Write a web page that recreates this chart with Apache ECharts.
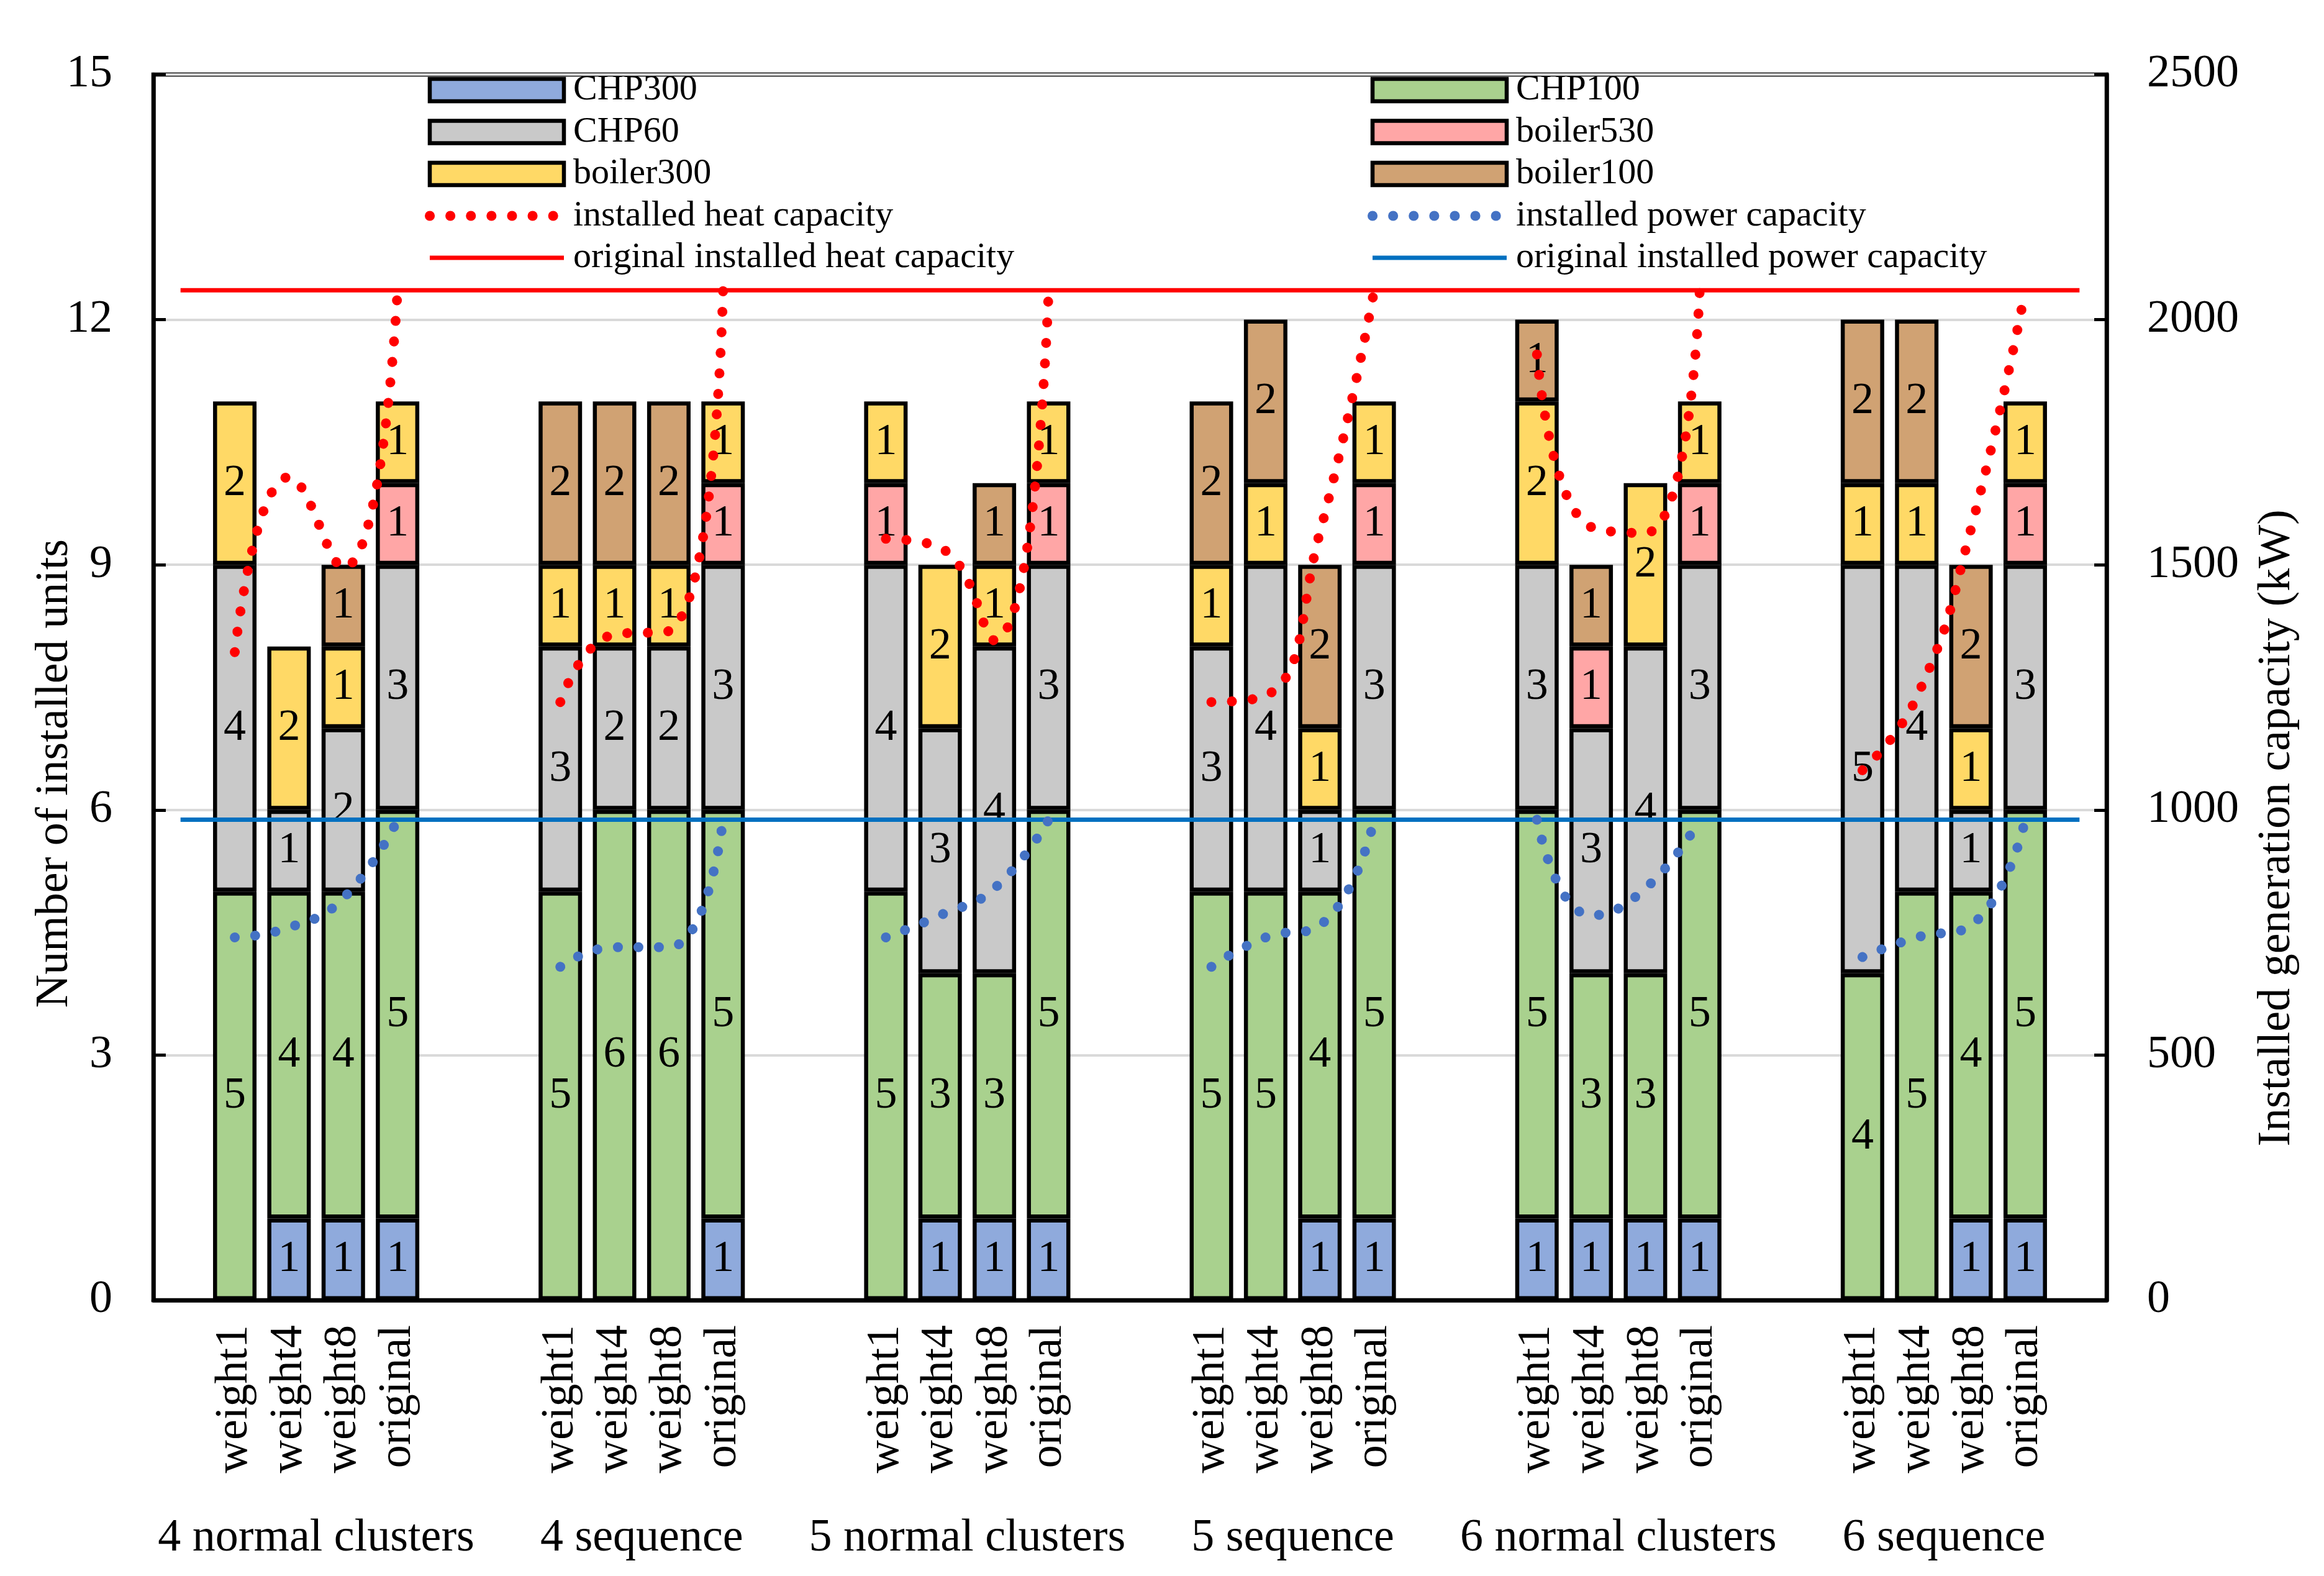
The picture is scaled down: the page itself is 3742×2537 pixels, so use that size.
<!DOCTYPE html>
<html><head><meta charset="utf-8">
<script src="https://cdn.jsdelivr.net/npm/echarts@6/dist/echarts.min.js"></script>
<style>html,body{margin:0;padding:0;background:#fff}#c{width:3742px;height:2537px}</style>
</head><body><div id="c"></div>
<script>
const groups = ['4 normal clusters', '4 sequence', '5 normal clusters', '5 sequence', '6 normal clusters', '6 sequence'];
const variants = ['weight1', 'weight4', 'weight8', 'original'];

// number of installed units per group: [weight1, weight4, weight8, original]
const CHP300    = [[0,1,1,1],[0,0,0,1],[0,1,1,1],[0,0,1,1],[1,1,1,1],[0,0,1,1]];
const CHP100    = [[5,4,4,5],[5,6,6,5],[5,3,3,5],[5,5,4,5],[5,3,3,5],[4,5,4,5]];
const CHP60     = [[4,1,2,3],[3,2,2,3],[4,3,4,3],[3,4,1,3],[3,3,4,3],[5,4,1,3]];
const boiler530 = [[0,0,0,1],[0,0,0,1],[1,0,0,1],[0,0,0,1],[0,1,0,1],[0,0,0,1]];
const boiler300 = [[2,2,1,1],[1,1,1,1],[1,2,1,1],[1,1,1,1],[2,0,2,1],[1,1,1,1]];
const boiler100 = [[0,0,1,0],[2,2,2,0],[0,0,1,0],[2,2,2,0],[1,1,0,0],[2,2,2,0]];

// installed capacity (kW)
const heatCapacity  = [[1322,1679,1494,2060],[1220,1358,1365,2060],[1553,1535,1346,2060],[1220,1233,1566,2060],[1929,1577,1565,2060],[1081,1230,1573,2060]];
const powerCapacity = [[740,760,820,980],[680,720,720,980],[740,785,840,980],[680,740,765,980],[980,785,840,980],[700,740,765,980]];
const originalHeat = 2060;
const originalPower = 980;

const FONT = 'Liberation Serif';

// slot layout: gap, 4 bars, gap per group
const catKeys = [];
const catLabels = [];
groups.forEach((g, gi) => {
  catKeys.push('gap-a-' + gi); catLabels.push('');
  variants.forEach(v => { catKeys.push(gi + '-' + v); catLabels.push(v); });
  catKeys.push('gap-b-' + gi); catLabels.push('');
});

function expand(arr, zeroAsNull) {
  const out = [];
  arr.forEach(g => {
    out.push(null);
    g.forEach(v => out.push(zeroAsNull && v === 0 ? null : v));
    out.push(null);
  });
  return out;
}

const unitSeries = [
  { name: 'CHP300', data: CHP300, color: '#8FAADC' },
  { name: 'CHP100', data: CHP100, color: '#A9D18E' },
  { name: 'CHP60', data: CHP60, color: '#C9C9C9' },
  { name: 'boiler530', data: boiler530, color: '#FFA6A6' },
  { name: 'boiler300', data: boiler300, color: '#FFD966' },
  { name: 'boiler100', data: boiler100, color: '#D0A273' }
];

const series = unitSeries.map(s => ({
  name: s.name, type: 'bar', stack: 'units', barWidth: 70,
  data: expand(s.data, true),
  itemStyle: { color: s.color, borderColor: '#000', borderWidth: 6.5 },
  label: { show: true, position: 'inside', color: '#000', fontFamily: FONT, fontSize: 72,
           textBorderWidth: 0, formatter: p => p.value }
}));

series.push({
  name: 'installed heat capacity', type: 'line', yAxisIndex: 1, smooth: true, symbol: 'none',
  data: expand(heatCapacity, false), z: 5,
  lineStyle: { color: '#FF0000', width: 16, type: [0.1, 33], cap: 'round' },
  itemStyle: { color: 'rgba(0,0,0,0)', borderWidth: 0, opacity: 0 }
});
series.push({
  name: 'installed power capacity', type: 'line', yAxisIndex: 1, smooth: true, symbol: 'none',
  data: expand(powerCapacity, false), z: 5,
  lineStyle: { color: '#4472C4', width: 16, type: [0.1, 33], cap: 'round' },
  itemStyle: { color: 'rgba(0,0,0,0)', borderWidth: 0, opacity: 0 }
});
series.push({
  name: 'original installed heat capacity', type: 'line', yAxisIndex: 1, symbol: 'none',
  data: catKeys.map(() => originalHeat), z: 4,
  lineStyle: { color: '#FF0000', width: 7 },
  itemStyle: { color: 'rgba(0,0,0,0)', borderWidth: 0, opacity: 0 }
});
series.push({
  name: 'original installed power capacity', type: 'line', yAxisIndex: 1, symbol: 'none',
  data: catKeys.map(() => originalPower), z: 4,
  lineStyle: { color: '#0070C0', width: 7 },
  itemStyle: { color: 'rgba(0,0,0,0)', borderWidth: 0, opacity: 0 }
});

const legendCommon = {
  orient: 'vertical', itemWidth: 216, itemHeight: 36, itemGap: 7.5, padding: 0,
  selectedMode: false,
  textStyle: { fontFamily: FONT, fontSize: 58, lineHeight: 60, color: '#000', padding: [0, 0, 0, 10] },
  itemStyle: { borderWidth: 'inherit' },
  lineStyle: { width: 'inherit' }
};

const option = {
  animation: false,
  backgroundColor: '#fff',
  grid: { left: 247, right: 350, top: 120, bottom: 444, show: true, borderColor: '#000', borderWidth: 6.5, backgroundColor: 'transparent' },
  legend: [
    Object.assign({}, legendCommon, { left: 684, top: 115,
      data: [{ name: 'CHP300', icon: 'rect' }, { name: 'CHP60', icon: 'rect' }, { name: 'boiler300', icon: 'rect' },
             'installed heat capacity', 'original installed heat capacity'] }),
    Object.assign({}, legendCommon, { left: 2202, top: 115,
      data: [{ name: 'CHP100', icon: 'rect' }, { name: 'boiler530', icon: 'rect' }, { name: 'boiler100', icon: 'rect' },
             'installed power capacity', 'original installed power capacity'] })
  ],
  xAxis: [
    { type: 'category', data: catKeys, boundaryGap: true,
      axisLine: { show: true, lineStyle: { color: '#000', width: 6.5 } },
      axisTick: { show: false },
      axisLabel: { interval: 0, rotate: 90, margin: 40, fontFamily: FONT, fontSize: 74, color: '#000',
                   formatter: (v, i) => catLabels[i] },
      splitLine: { show: false } },
    { type: 'category', data: groups, position: 'bottom', boundaryGap: true,
      axisLine: { show: false }, axisTick: { show: false }, splitLine: { show: false },
      axisLabel: { interval: 0, margin: 347, fontFamily: FONT, fontSize: 74, color: '#000' } }
  ],
  yAxis: [
    { type: 'value', min: 0, max: 15, interval: 3, position: 'left',
      axisLine: { show: true, lineStyle: { color: '#000', width: 6.5 } },
      axisTick: { show: true, inside: true, length: 20, lineStyle: { color: '#000', width: 5 } },
      axisLabel: { margin: 66, fontFamily: FONT, fontSize: 74, color: '#000', formatter: v => String(v) },
      splitLine: { show: true, lineStyle: { color: '#D9D9D9', width: 4 } } },
    { type: 'value', min: 0, max: 2500, interval: 500, position: 'right',
      axisLine: { show: true, lineStyle: { color: '#000', width: 6.5 } },
      axisTick: { show: true, inside: true, length: 20, lineStyle: { color: '#000', width: 5 } },
      axisLabel: { margin: 65, fontFamily: FONT, fontSize: 74, color: '#000', formatter: v => String(v) },
      splitLine: { show: false } }
  ],
  graphic: [
    { type: 'text', x: 89, y: 1245, rotation: Math.PI / 2, z: 10,
      style: { text: 'Number of installed units', fontFamily: FONT, fontSize: 74, fill: '#000',
               align: 'center', verticalAlign: 'middle', textAlign: 'center', textVerticalAlign: 'middle' } },
    { type: 'text', x: 3667, y: 1333, rotation: Math.PI / 2, z: 10,
      style: { text: 'Installed generation capacity (kW)', fontFamily: FONT, fontSize: 74, fill: '#000',
               align: 'center', verticalAlign: 'middle', textAlign: 'center', textVerticalAlign: 'middle' } }
  ],
  series: series
};

const chart = echarts.init(document.getElementById('c'), null, { renderer: 'canvas' });
chart.setOption(option);
</script>
</body></html>
